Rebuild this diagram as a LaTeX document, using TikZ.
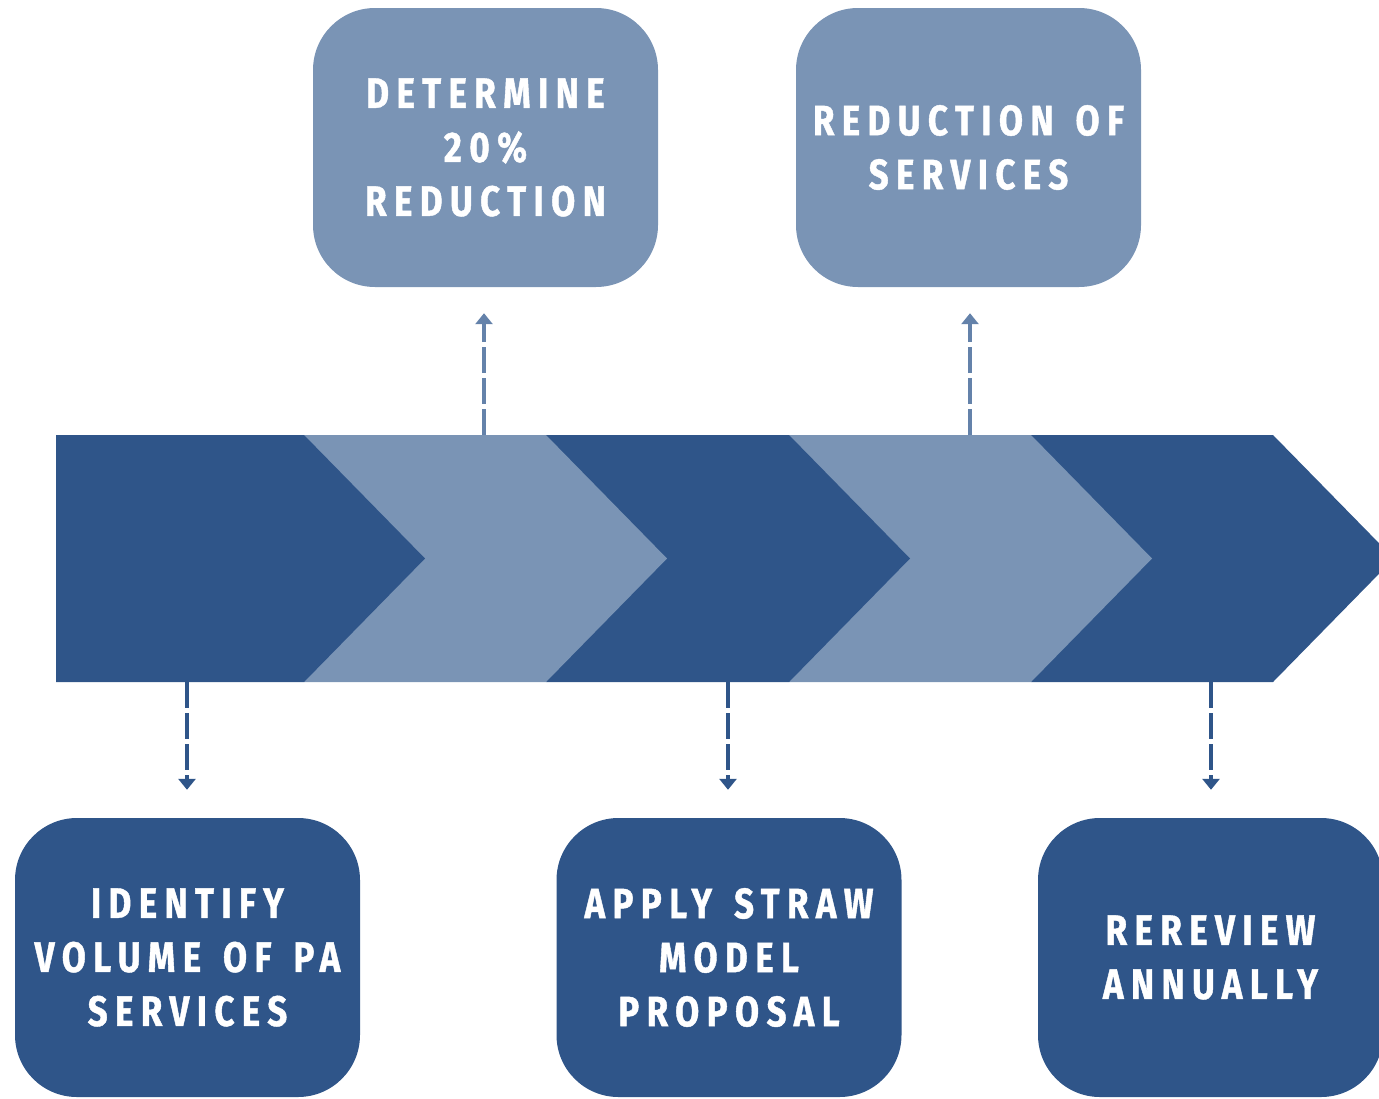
\documentclass[tikz,border=0pt]{standalone}
\usepackage{fontspec}
\usetikzlibrary{arrows.meta}
\newfontfamily\lbl{Fira Sans}[FakeStretch=0.82,LetterSpace=17.5,WordSpace=1.4,FakeBold=1]
\definecolor{navy}{RGB}{47,85,137}
\definecolor{steel}{RGB}{122,148,181}
\definecolor{steelarrow}{RGB}{100,130,170}
\tikzset{
  box/.style={rectangle, rounded corners=62pt, minimum width=345pt, minimum height=279pt,
    inner sep=0pt, align=center, text=white,
    font={\lbl\bfseries\fontsize{42.5}{54}\selectfont}},
  topbox/.style={box, fill=steel},
  botbox/.style={box, fill=navy},
  link/.style={line width=3.5pt, dash pattern=on 26pt off 5pt,
    -{Triangle[width=17pt,length=11pt]}},
}
\begin{document}
\begin{tikzpicture}[x=1pt,y=-1pt]
\useasboundingbox (0,0) rectangle (1379,1098);
\clip (0,0) rectangle (1379,1098);

% chevron band, drawn right to left so each tip lies over the next piece
\def\bt{435}\def\bb{682}\def\bm{558.5}
\foreach \l/\r/\c in {1031/1273/navy, 789/1031/steel, 546/789/navy, 304/546/steel, 56/304/navy}{
  \fill[\c] (\l,\bt) -- (\r,\bt) -- (\r+121,\bm) -- (\r,\bb) -- (\l,\bb) -- cycle;
}

% anchor points on the band edges
\coordinate (u1) at (484,\bt);
\coordinate (u2) at (970,\bt);
\coordinate (d1) at (187,\bb);
\coordinate (d2) at (728,\bb);
\coordinate (d3) at (1211,\bb);

% step boxes
\node[topbox] (t1) at (485.5,147.5) {DETERMINE\\20\%\\REDUCTION};
\node[topbox] (t2) at (968.5,147.5) {REDUCTION OF\\SERVICES};
\node[botbox] (b1) at (187.5,957.5) {IDENTIFY\\VOLUME OF PA\\SERVICES};
\node[botbox] (b2) at (729,957.5) {APPLY STRAW\\MODEL\\PROPOSAL};
\node[botbox] (b3) at (1210.5,957.5) {REREVIEW\\ANNUALLY};

% dashed pointers
\draw[link, steelarrow, shorten >=26pt] (u1) -- (u1 |- t1.south);
\draw[link, steelarrow, shorten >=26pt] (u2) -- (u2 |- t2.south);
\draw[link, navy, shorten >=28pt] (d1) -- (d1 |- b1.north);
\draw[link, navy, shorten >=28pt] (d2) -- (d2 |- b2.north);
\draw[link, navy, shorten >=28pt] (d3) -- (d3 |- b3.north);
\end{tikzpicture}
\end{document}
